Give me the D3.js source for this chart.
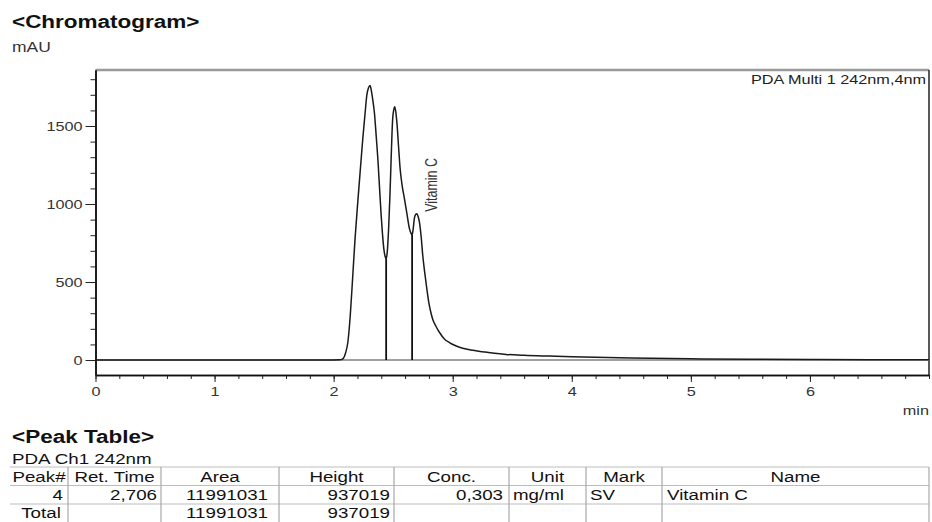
<!doctype html>
<html lang="en">
<head>
  <meta charset="utf-8">
  <title>Chromatogram</title>
  <style>
    body { margin: 0; background: #fff; }
    svg { display: block; font-family: "Liberation Sans", Arial, sans-serif; }
  </style>
</head>
<body>
  <script src="https://cdn.jsdelivr.net/npm/d3@7"></script>
  <script>
    // Signal (time in min, absorbance in mAU)
    const times = [0, 0.5, 1.0, 1.5, 2.0, 2.05, 2.077, 2.10, 2.12, 2.14, 2.161, 2.18, 2.203, 2.225, 2.245,
                   2.265, 2.279, 2.293, 2.306, 2.318, 2.33, 2.343, 2.357, 2.371, 2.385, 2.399, 2.41, 2.421,
                   2.432, 2.441, 2.45, 2.463, 2.473, 2.483, 2.49, 2.496, 2.505, 2.513, 2.522, 2.533, 2.545,
                   2.558, 2.575, 2.594, 2.615, 2.636, 2.65, 2.659, 2.668, 2.678, 2.688, 2.698, 2.71, 2.72,
                   2.735, 2.748, 2.765, 2.782, 2.80, 2.818, 2.832, 2.86, 2.888, 2.93, 2.972, 3.03, 3.084,
                   3.17, 3.252, 3.35, 3.448, 3.6, 3.81, 4.0, 4.5, 5.0, 5.5, 6.0, 6.5, 7.0];
    const absorbance = [0, 0, 0, 0, 0, 1, 8, 45, 117, 290, 545, 780, 1015, 1230, 1421,
                        1590, 1699, 1745, 1760, 1720, 1660, 1580, 1440, 1293, 1110, 929, 810, 716,
                        665, 647, 690, 865, 1060, 1293, 1450, 1549, 1605, 1624, 1590, 1506, 1370,
                        1229, 1120, 1036, 940, 844, 812, 801, 840, 908, 932, 937, 918, 886,
                        790, 673, 560, 460, 365, 300, 262, 215, 178, 135, 112, 90, 75,
                        62, 53, 43, 36, 30, 25, 21, 13, 8, 5, 3, 2, 2];

    // Peak delimiters and labelled peaks
    const dropTimes = [2.441, 2.659];
    const labelTimes = [2.706];
    const labelHeights = [937];
    const labelNames = ['Vitamin C'];

    // Axis ticks
    const yMajor = [0, 500, 1000, 1500];
    const yMinor = d3.range(0, 1900, 100);
    const xMajor = [0, 1, 2, 3, 4, 5, 6];
    const xMinor = d3.range(0, 36).map((i) => i / 5);

    // Peak table
    const tableHeader = ['Peak#', 'Ret. Time', 'Area', 'Height', 'Conc.', 'Unit', 'Mark', 'Name'];
    const peakRow = ['4', '2,706', '11991031', '937019', '0,303', 'mg/ml', 'SV', 'Vitamin C'];
    const totalRow = ['Total', '', '11991031', '937019', '', '', '', ''];

    // Layout
    const W = 932, H = 522;
    const SX = 1.25; // the printout is stretched sideways
    const plot = { left: 95.5, right: 929, top: 70, bottom: 375 };

    const svg = d3.select('body').append('svg').attr('width', W).attr('height', H);

    function txt(x, y, s, o = {}) {
      return svg.append('text')
        .attr('transform', `translate(${x},${y}) scale(${SX},1)${o.rotate ? ` rotate(${o.rotate})` : ''}`)
        .attr('text-anchor', o.anchor || 'start')
        .attr('font-size', o.size || 13)
        .attr('font-weight', o.weight || 'normal')
        .attr('fill', o.fill || '#111')
        .text(s);
    }

    // Headings
    txt(12, 28, '<Chromatogram>', { size: 18, weight: 'bold' });
    txt(12, 51.5, 'mAU', { size: 14, fill: '#333' });

    const x = d3.scaleLinear().domain([0, 7]).range([plot.left, plot.right]);
    const y = d3.scaleLinear().domain([-96, 1859]).range([plot.bottom, plot.top]);

    // Frame
    svg.append('line').attr('x1', plot.left).attr('x2', plot.right).attr('y1', plot.top).attr('y2', plot.top)
       .attr('stroke', '#9a9a9a').attr('stroke-width', 2.5);
    svg.append('line').attr('x1', plot.right).attr('x2', plot.right).attr('y1', plot.top).attr('y2', plot.bottom)
       .attr('stroke', '#222').attr('stroke-width', 1.5);

    // Zero baseline
    svg.append('line').attr('x1', x(0)).attr('x2', x(7)).attr('y1', y(0)).attr('y2', y(0))
       .attr('stroke', '#a0a0a0').attr('stroke-width', 2);

    // Axes
    function styleAxis(g) {
      g.select('.domain').attr('stroke', '#111').attr('stroke-width', 1.5);
      g.selectAll('.tick line').attr('stroke', '#222');
    }

    const yMinorG = svg.append('g').attr('transform', `translate(${plot.left},0)`)
      .call(d3.axisLeft(y).tickValues(yMinor).tickSize(5).tickSizeOuter(0).tickFormat(''));
    styleAxis(yMinorG);
    const yMajorG = svg.append('g').attr('transform', `translate(${plot.left},0)`)
      .call(d3.axisLeft(y).tickValues(yMajor).tickSize(10).tickSizeOuter(0).tickPadding(3)
              .tickFormat(d3.format('d')));
    styleAxis(yMajorG);
    yMajorG.selectAll('text')
      .attr('font-size', 13).attr('fill', '#333')
      .attr('font-family', '"Liberation Sans", Arial, sans-serif')
      .attr('x', function () { return +this.getAttribute('x') / SX; })
      .attr('transform', `scale(${SX},1)`);

    const xMinorG = svg.append('g').attr('transform', `translate(0,${plot.bottom})`)
      .call(d3.axisBottom(x).tickValues(xMinor).tickSize(4).tickSizeOuter(0).tickFormat(''));
    styleAxis(xMinorG);
    const xMajorG = svg.append('g').attr('transform', `translate(0,${plot.bottom})`)
      .call(d3.axisBottom(x).tickValues(xMajor).tickSize(7).tickSizeOuter(0).tickPadding(5)
              .tickFormat(d3.format('d')));
    styleAxis(xMajorG);
    xMajorG.selectAll('text')
      .attr('font-size', 13).attr('fill', '#333')
      .attr('font-family', '"Liberation Sans", Arial, sans-serif')
      .attr('transform', `scale(${SX},1)`);

    txt(plot.right, 415, 'min', { anchor: 'end', size: 13, fill: '#333' });
    txt(926, 84, 'PDA Multi 1 242nm,4nm', { anchor: 'end', size: 13, fill: '#222' });

    // Signal
    const pts = times.map((t, i) => [t, absorbance[i]]);
    const line = d3.line().x((d) => x(d[0])).y((d) => y(d[1])).curve(d3.curveMonotoneX);
    svg.append('path').datum(pts).attr('d', line)
       .attr('fill', 'none').attr('stroke', '#1a1a1a').attr('stroke-width', 1.5);

    // Drop lines at peak boundaries
    dropTimes.forEach((t) => {
      const v = absorbance[times.indexOf(t)];
      svg.append('line').attr('x1', x(t)).attr('x2', x(t)).attr('y1', y(v)).attr('y2', y(0))
         .attr('stroke', '#111').attr('stroke-width', 1.8);
    });

    // Peak names
    labelTimes.forEach((t, i) => {
      txt(x(t) + 19, y(labelHeights[i]) - 2, labelNames[i], { size: 12.5, rotate: -90, fill: '#333' });
    });

    // Peak table
    txt(12, 443, '<Peak Table>', { size: 18, weight: 'bold' });
    txt(12, 464, 'PDA Ch1 242nm', { size: 15 });

    const colEdges = [10, 68, 161, 279, 394, 509, 586, 662, 929];
    const rowEdges = [467, 485.5, 504, 522.5];
    const rowBase = [482, 500, 517.5];
    const cellAlign = ['end', 'end', 'end', 'end', 'end', 'start', 'start', 'start'];
    const cellPad = [5, 4, 11, 4, 6, 4, 4, 5];

    rowEdges.forEach((ry) => {
      svg.append('line').attr('x1', colEdges[0]).attr('x2', colEdges[8]).attr('y1', ry).attr('y2', ry)
         .attr('stroke', '#bdbdbd').attr('stroke-width', 1.2);
    });
    colEdges.slice(1).forEach((cx) => {
      svg.append('line').attr('x1', cx).attr('x2', cx).attr('y1', rowEdges[0]).attr('y2', H)
         .attr('stroke', '#a8a8a8').attr('stroke-width', 1.2);
    });

    tableHeader.forEach((h, i) => {
      txt((colEdges[i] + colEdges[i + 1]) / 2, rowBase[0], h, { anchor: 'middle', size: 15 });
    });
    [peakRow, totalRow].forEach((row, r) => {
      row.forEach((s, i) => {
        if (!s) return;
        let anchor = cellAlign[i];
        let px = anchor === 'end' ? colEdges[i + 1] - cellPad[i] : colEdges[i] + cellPad[i];
        if (s === 'Total') { anchor = 'middle'; px = (colEdges[0] + colEdges[1]) / 2 + 2; }
        txt(px, rowBase[r + 1], s, { anchor, size: 15 });
      });
    });
  </script>
</body>
</html>
